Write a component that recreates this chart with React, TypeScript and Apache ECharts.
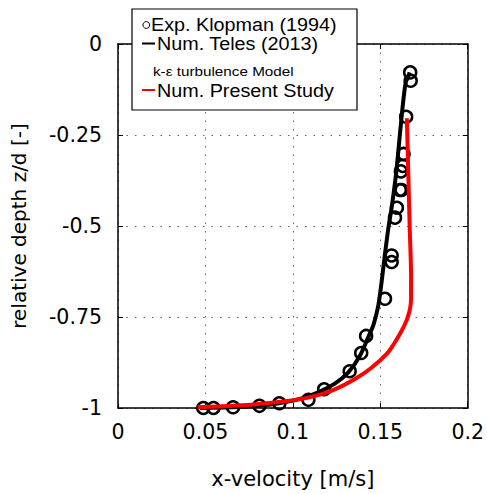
import React, { useEffect, useRef } from "react";
import * as echarts from "echarts";

const xTicks = [0, 0.05, 0.1, 0.15, 0.2];
const yTicks = [-1, -0.75, -0.5, -0.25, 0];

const expVelocity = [0.1671, 0.1674, 0.1648, 0.1633, 0.1629, 0.1618, 0.1622, 0.1612, 0.1595, 0.1584, 0.1565, 0.1565, 0.1527, 0.1419, 0.1391, 0.1325, 0.1179, 0.1089, 0.0923, 0.0809, 0.0658, 0.0546, 0.0488];
const expDepth = [-0.078, -0.101, -0.2, -0.302, -0.335, -0.35, -0.401, -0.401, -0.45, -0.477, -0.581, -0.599, -0.7, -0.802, -0.849, -0.899, -0.9486, -0.9775, -0.987, -0.994, -0.998, -1.0, -1.0];

const telesVelocity = [0.1668, 0.166, 0.1646, 0.1633, 0.1614, 0.159, 0.1565, 0.1548, 0.1534, 0.1521, 0.1506, 0.1488, 0.1462, 0.1436, 0.1382, 0.1316, 0.124, 0.1145, 0.104, 0.092, 0.08, 0.065, 0.047];
const telesDepth = [-0.078, -0.09, -0.105, -0.15, -0.24, -0.358, -0.45, -0.5, -0.55, -0.6, -0.66, -0.72, -0.77, -0.8, -0.858, -0.903, -0.933, -0.957, -0.975, -0.987, -0.994, -0.998, -1.0];

const presentVelocity = [0.1652, 0.166, 0.1668, 0.1676, 0.1676, 0.1669, 0.165, 0.162, 0.1583, 0.154, 0.1448, 0.1353, 0.124, 0.1127, 0.1025, 0.0805, 0.0654, 0.0455];
const presentDepth = [-0.204, -0.35, -0.5, -0.637, -0.7, -0.73, -0.76, -0.79, -0.82, -0.85, -0.89, -0.921, -0.9486, -0.9667, -0.977, -0.989, -0.994, -0.998];

const legendTexts = ["Exp. Klopman (1994)", "Num. Teles (2013)", "k-ε turbulence Model", "Num. Present Study"];

const zip = (a: number[], b: number[]) => a.map((v, i) => [v, b[i]]);

export default function App() {
  const ref = useRef<HTMLDivElement>(null);
  useEffect(() => {
    if (!ref.current) return;
    const chart = echarts.init(ref.current, null, { renderer: "svg" });
    const tickFont = { fontFamily: "DejaVu Sans", fontSize: 20.5, color: "#000" };
    const split = { show: true, lineStyle: { color: "#666", width: 1, type: [1.5, 7] as any } };
    const legFont = "Liberation Sans";
    const Z = 100;
    chart.setOption({
      animation: false,
      backgroundColor: "#fff",
      grid: { left: 118, right: 16, top: 44, bottom: 80, containLabel: false },
      xAxis: [
        {
          type: "value", min: xTicks[0], max: xTicks[xTicks.length - 1], interval: 0.05,
          position: "bottom",
          name: "x-velocity [m/s]", nameLocation: "middle", nameGap: 60,
          nameTextStyle: { fontFamily: "DejaVu Sans", fontSize: 21, color: "#000" },
          axisLine: { show: true, onZero: false, lineStyle: { color: "#000", width: 1.5 } },
          axisTick: { show: true, inside: true, length: 5, lineStyle: { color: "#000" } },
          axisLabel: { ...tickFont, margin: 13 },
          splitLine: split,
        },
        {
          type: "value", min: xTicks[0], max: xTicks[xTicks.length - 1], interval: 0.05,
          position: "top",
          axisLine: { show: true, onZero: false, lineStyle: { color: "#000", width: 1.5 } },
          axisTick: { show: true, inside: true, length: 5, lineStyle: { color: "#000" } },
          axisLabel: { show: false },
          splitLine: { show: false },
        },
      ],
      yAxis: [
        {
          type: "value", min: yTicks[0], max: yTicks[yTicks.length - 1], interval: 0.25,
          position: "left",
          name: "relative depth z/d [-]", nameLocation: "middle", nameGap: 89, nameRotate: 90,
          nameTextStyle: { fontFamily: "DejaVu Sans", fontSize: 20, color: "#000" },
          axisLine: { show: true, onZero: false, lineStyle: { color: "#000", width: 1.5 } },
          axisTick: { show: true, inside: true, length: 5, lineStyle: { color: "#000" } },
          axisLabel: { ...tickFont, margin: 16 },
          splitLine: split,
        },
        {
          type: "value", min: yTicks[0], max: yTicks[yTicks.length - 1], interval: 0.25,
          position: "right",
          axisLine: { show: true, onZero: false, lineStyle: { color: "#000", width: 1.5 } },
          axisTick: { show: true, inside: true, length: 5, lineStyle: { color: "#000" } },
          axisLabel: { show: false },
          splitLine: { show: false },
        },
      ],
      series: [
        {
          type: "scatter", name: legendTexts[0], data: zip(expVelocity, expDepth),
          symbol: "circle", symbolSize: 12,
          itemStyle: { color: "rgba(0,0,0,0)", borderColor: "#000", borderWidth: 2.5, opacity: 1 },
          z: 3,
        },
        {
          type: "line", name: legendTexts[1], data: zip(telesVelocity, telesDepth),
          smooth: 0.3, showSymbol: false, symbol: "none",
          lineStyle: { color: "#000", width: 4 },
          z: 4,
        },
        {
          type: "line", name: legendTexts[3], data: zip(presentVelocity, presentDepth),
          smooth: 0.3, showSymbol: false, symbol: "none",
          lineStyle: { color: "#ff0000", width: 4 },
          z: 5,
        },
      ],
      graphic: [
        { type: "rect", z: Z, shape: { x: 132, y: 9, width: 225, height: 101 }, style: { fill: "#fff", stroke: "#000", lineWidth: 1.2 } },
        { type: "circle", z: Z + 1, shape: { cx: 146.3, cy: 25, r: 3.4 }, style: { fill: "none", stroke: "#000", lineWidth: 1 } },
        { type: "text", z: Z + 1, x: 151, y: 25, scaleX: 1.13, style: { text: legendTexts[0], font: `17.5px '${legFont}'`, fill: "#000", verticalAlign: "middle", align: "left" } },
        { type: "line", z: Z + 1, shape: { x1: 142, y1: 43.5, x2: 155, y2: 43.5 }, style: { stroke: "#000", lineWidth: 2 } },
        { type: "text", z: Z + 1, x: 157, y: 44, scaleX: 1.13, style: { text: legendTexts[1], font: `17.5px '${legFont}'`, fill: "#000", verticalAlign: "middle", align: "left" } },
        { type: "text", z: Z + 1, x: 153, y: 72, scaleX: 1.22, style: { text: legendTexts[2], font: `12.5px '${legFont}'`, fill: "#000", verticalAlign: "middle", align: "left" } },
        { type: "line", z: Z + 1, shape: { x1: 142, y1: 90, x2: 155, y2: 90 }, style: { stroke: "#ff0000", lineWidth: 2 } },
        { type: "text", z: Z + 1, x: 157, y: 91, scaleX: 1.13, style: { text: legendTexts[3], font: `17.5px '${legFont}'`, fill: "#000", verticalAlign: "middle", align: "left" } },
      ],
    });
    return () => chart.dispose();
  }, []);
  return <div ref={ref} style={{ position: "fixed", left: 0, top: 0, width: 487, height: 494 }} />;
}
